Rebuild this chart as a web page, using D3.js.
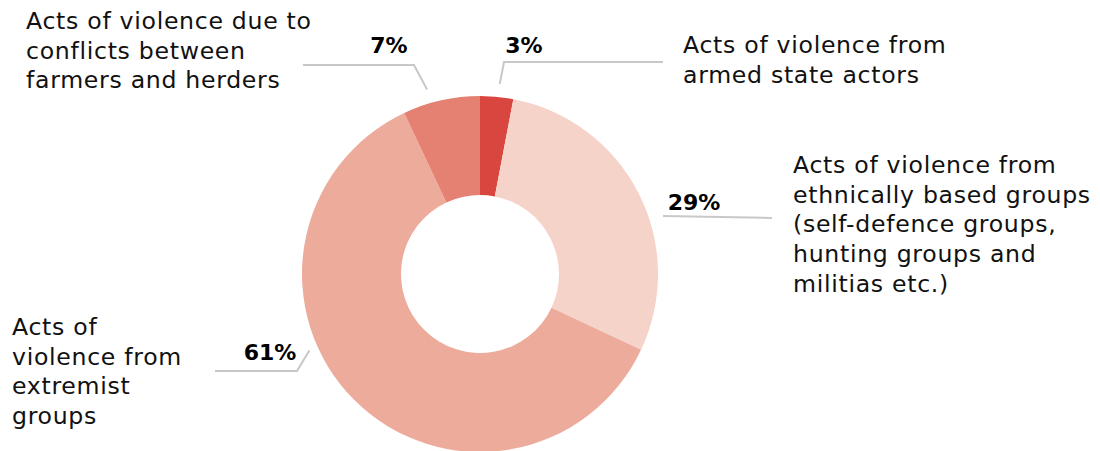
<!DOCTYPE html>
<html>
<head>
<meta charset="utf-8">
<script src="https://cdn.jsdelivr.net/npm/d3@7/dist/d3.min.js"></script>
<style>
  html, body { margin: 0; padding: 0; background: #ffffff; }
  svg { display: block; }
  .cat { font-family: "DejaVu Sans", sans-serif; font-size: 23.6px; letter-spacing: 0.7px; fill: #111111; }
  .pct { font-family: "DejaVu Sans", sans-serif; font-weight: bold; font-size: 22px; fill: #000000; }
</style>
</head>
<body>
<svg id="chart" width="1100" height="451"></svg>
<script>
// Violence categories, in clockwise order from 12 o'clock
const categories = [
  "Acts of violence from armed state actors",
  "Acts of violence from ethnically based groups (self-defence groups, hunting groups and militias etc.)",
  "Acts of violence from extremist groups",
  "Acts of violence due to conflicts between farmers and herders"
];
const shares = [3, 29, 61, 7];
const pctLabels = ["3%", "29%", "61%", "7%"];
const categoryLines = [
  ["Acts of violence from", "armed state actors"],
  ["Acts of violence from", "ethnically based groups", "(self-defence groups,", "hunting groups and", "militias etc.)"],
  ["Acts of", "violence from", "extremist", "groups"],
  ["Acts of violence due to", "conflicts between", "farmers and herders"]
];
const colors = ["#d9463f", "#f6d3c8", "#edab9c", "#e58172"];

// Annotation layout: where along each slice the leader starts (0..1),
// the leader path after it, and where the texts sit.
const layout = [
  { t: 0.55, r: 191, path: [[504, 62], [663, 62]], pct: [524, 53], txt: [683, 53] },
  { t: 0.59, r: 192, path: [[772, 218]], pct: [694, 210], txt: [793, 173] },
  { t: 0.595, r: 187, path: [[297, 371], [215, 371]], pct: [270, 360], txt: [12, 335] },
  { t: 0.365, r: 192, path: [[414, 65], [303, 65]], pct: [389, 53], txt: [26, 29] }
];

const cx = 480, cy = 274, outerR = 178, innerR = 79, lineH = 29.7;

const svg = d3.select("#chart");
const g = svg.append("g").attr("transform", `translate(${cx},${cy})`);

const pie = d3.pie().sort(null).value(d => d)(shares);
const arc = d3.arc().innerRadius(innerR).outerRadius(outerR);

g.selectAll("path.slice")
  .data(pie)
  .join("path")
  .attr("class", "slice")
  .attr("d", arc)
  .attr("fill", (d, i) => colors[i]);

// Leader lines
const line = d3.line();
pie.forEach((d, i) => {
  const L = layout[i];
  const a = d.startAngle + L.t * (d.endAngle - d.startAngle);
  const start = [cx + L.r * Math.sin(a), cy - L.r * Math.cos(a)];
  svg.append("path")
    .attr("d", line([start, ...L.path]))
    .attr("fill", "none")
    .attr("stroke", "#c8c8c8")
    .attr("stroke-width", 2);
});

// Percentage labels
svg.selectAll("text.pct")
  .data(pie)
  .join("text")
  .attr("class", "pct")
  .attr("x", (d, i) => layout[i].pct[0])
  .attr("y", (d, i) => layout[i].pct[1])
  .attr("text-anchor", "middle")
  .text((d, i) => pctLabels[i]);

// Category labels
categoryLines.forEach((lines, i) => {
  const t = svg.append("text")
    .attr("class", "cat")
    .attr("x", layout[i].txt[0])
    .attr("y", layout[i].txt[1]);
  lines.forEach((s, k) => {
    t.append("tspan")
      .attr("x", layout[i].txt[0])
      .attr("y", layout[i].txt[1] + k * lineH)
      .text(s);
  });
});
</script>
</body>
</html>
